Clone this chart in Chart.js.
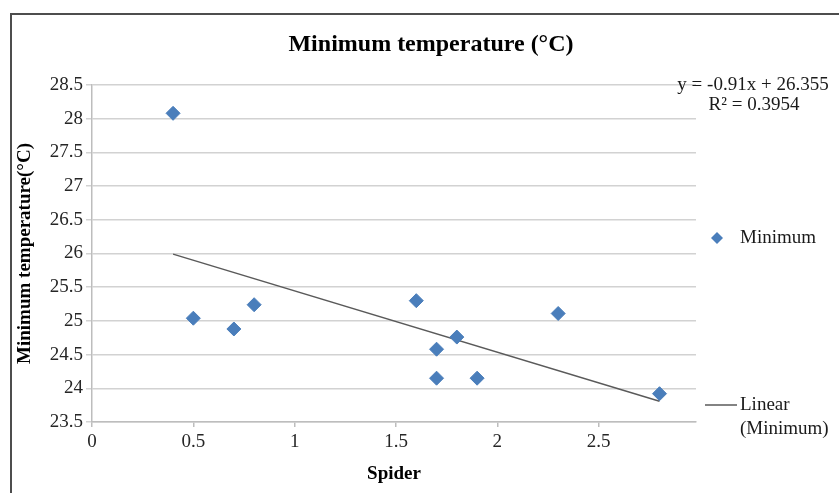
<!DOCTYPE html>
<html>
<head>
<meta charset="utf-8">
<title>Minimum temperature (°C)</title>
<script src="https://cdn.jsdelivr.net/npm/chart.js@4/dist/chart.umd.min.js"></script>
<style>
  html, body { margin: 0; padding: 0; background: #ffffff; }
  #wrap { width: 839px; height: 493px; }
</style>
</head>
<body>
<div id="wrap"><canvas id="chart" width="839" height="493"></canvas></div>
<script>
// Observations: spider count vs. minimum temperature
const spider = [0.4, 0.5, 0.7, 0.8, 1.6, 1.7, 1.7, 1.8, 1.9, 2.3, 2.8];
const minTemp = [28.08, 25.04, 24.88, 25.24, 25.30, 24.58, 24.15, 24.76, 24.15, 25.11, 23.92];

// Linear trendline as reported on the chart
const trendSlope = -0.91;
const trendIntercept = 26.355;
const trendR2 = 0.3954;

// Axis ticks
const xTicks = [0, 0.5, 1, 1.5, 2, 2.5];
const yMin = 23.5, yMax = 28.5, yStep = 0.5;

const SERIF = '"Liberation Serif", "Times New Roman", serif';
const BLUE = '#4a7ebb';
const TREND = '#5a5a5a';

const points = spider.map((x, i) => ({ x: x, y: minTemp[i] }));
const xLo = Math.min(...spider), xHi = Math.max(...spider);
const trend = [xLo, xHi].map(x => ({ x: x, y: trendSlope * x + trendIntercept }));

const fmt = (v) => String(v);
const tickFmt = (v) => String(Math.round(v * 100) / 100);
const eqText = 'y = ' + fmt(trendSlope) + 'x + ' + fmt(trendIntercept);
const r2Text = 'R² = ' + fmt(trendR2);

const decor = {
  id: 'decor',
  beforeDraw(chart) {
    const ctx = chart.ctx;
    ctx.save();
    ctx.fillStyle = '#ffffff';
    ctx.fillRect(0, 0, chart.width, chart.height);
    ctx.restore();
  },
  afterDraw(chart) {
    const ctx = chart.ctx;
    ctx.save();
    // frame
    ctx.strokeStyle = '#4d4d4d';
    ctx.lineWidth = 2;
    ctx.beginPath();
    ctx.moveTo(11, 493);
    ctx.lineTo(11, 14);
    ctx.lineTo(839, 14);
    ctx.stroke();

    // chart title
    ctx.fillStyle = '#000000';
    ctx.font = 'bold 24px ' + SERIF;
    ctx.textAlign = 'center';
    ctx.textBaseline = 'middle';
    ctx.fillText('Minimum temperature (°C)', 431, 45);

    // trendline equation
    ctx.font = '19px ' + SERIF;
    ctx.fillStyle = '#1a1a1a';
    ctx.fillText(eqText, 753, 85);
    ctx.fillText(r2Text, 754, 105);

    // legend: series marker
    ctx.textAlign = 'left';
    const mx = 717, my = 238, r = 6;
    ctx.fillStyle = BLUE;
    ctx.beginPath();
    ctx.moveTo(mx, my - r);
    ctx.lineTo(mx + r, my);
    ctx.lineTo(mx, my + r);
    ctx.lineTo(mx - r, my);
    ctx.closePath();
    ctx.fill();
    ctx.fillStyle = '#1a1a1a';
    ctx.fillText('Minimum', 740, my);

    // legend: trendline
    ctx.strokeStyle = TREND;
    ctx.lineWidth = 1.5;
    ctx.beginPath();
    ctx.moveTo(705, 405);
    ctx.lineTo(737, 405);
    ctx.stroke();
    ctx.fillText('Linear', 740, 405);
    ctx.fillText('(Minimum)', 740, 429);
    ctx.restore();
  }
};

new Chart(document.getElementById('chart'), {
  type: 'scatter',
  data: {
    datasets: [
      {
        label: 'Minimum',
        data: points,
        pointStyle: 'rectRot',
        pointRadius: 7,
        pointHoverRadius: 7,
        backgroundColor: BLUE,
        borderColor: BLUE,
        borderWidth: 1,
        order: 1
      },
      {
        label: 'Linear (Minimum)',
        data: trend,
        type: 'line',
        showLine: true,
        pointRadius: 0,
        borderColor: TREND,
        borderWidth: 1.5,
        fill: false,
        order: 2
      }
    ]
  },
  options: {
    responsive: false,
    animation: false,
    devicePixelRatio: 1,
    layout: { padding: { left: 12, right: 143, top: 85, bottom: 0 } },
    plugins: {
      legend: { display: false },
      title: { display: false },
      tooltip: { enabled: false }
    },
    scales: {
      x: {
        type: 'linear',
        min: 0,
        max: 2.98,
        afterBuildTicks(s) { s.ticks = xTicks.map(v => ({ value: v })); },
        afterFit(s) { s.height = 71; },
        ticks: {
          font: { family: SERIF, size: 19 },
          color: '#262626',
          padding: 4,
          maxRotation: 0,
          callback: (v) => tickFmt(v)
        },
        grid: {
          drawOnChartArea: false,
          drawTicks: true,
          tickLength: 5,
          color: '#bdbdbd',
          lineWidth: 1.5
        },
        border: { display: true, color: '#bdbdbd', width: 1.5 },
        title: {
          display: true,
          text: 'Spider',
          color: '#000000',
          font: { family: SERIF, size: 19, weight: 'bold' },
          padding: { top: 0, bottom: 8 }
        }
      },
      y: {
        min: yMin,
        max: yMax,
        afterFit(s) { s.width = 80; },
        ticks: {
          stepSize: yStep,
          font: { family: SERIF, size: 19 },
          color: '#262626',
          padding: 3,
          callback: (v) => tickFmt(v)
        },
        grid: {
          color: '#d2d2d2',
          lineWidth: 1.5,
          tickLength: 6,
          drawTicks: true
        },
        border: { display: true, color: '#bdbdbd', width: 1.5 },
        title: {
          display: true,
          text: 'Minimum temperature(°C)',
          color: '#000000',
          font: { family: SERIF, size: 19, weight: 'bold' },
          padding: { top: 2, bottom: 0 }
        }
      }
    }
  },
  plugins: [decor]
});
</script>
</body>
</html>
